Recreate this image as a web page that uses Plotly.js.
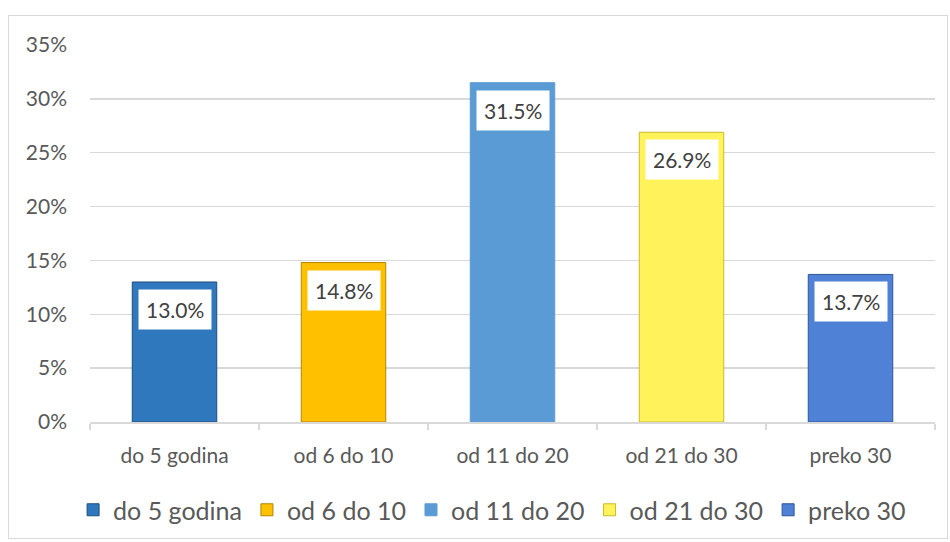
<!DOCTYPE html>
<html><head><meta charset="utf-8">
<script src="https://cdn.plot.ly/plotly-3.0.1.min.js"></script>
<style>
html,body{margin:0;padding:0;background:#fff;}
#frame{position:absolute;left:8px;top:15px;width:940px;height:524px;border:1px solid #d9d9d9;box-sizing:border-box;pointer-events:none;z-index:5;}
#chart{position:absolute;left:0;top:0;width:950px;height:542px;}
</style></head>
<body>
<div id="chart"></div><div id="frame"></div>
<script>
const categories = ["do 5 godina", "od 6 do 10", "od 11 do 20", "od 21 do 30", "preko 30"];
const values = [0.130, 0.148, 0.315, 0.269, 0.137];
const labels = ["13.0%", "14.8%", "31.5%", "26.9%", "13.7%"];
const colors = ["#3078bd", "#ffc000", "#5b9bd5", "#fff25a", "#4f81d6"];
const lineColors = ["#1f4e79", "#b08400", "#5b9bd5", "#c9bb2a", "#2f5597"];

const FONT = "Lato, 'Open Sans', sans-serif";
const traces = categories.map((c, i) => ({
  type: "bar",
  name: c,
  x: [c],
  y: [values[i]],
  marker: {color: colors[i], line: {color: lineColors[i], width: 1}},
  hoverinfo: "skip"
}));

const annotations = categories.map((c, i) => ({
  x: c, y: values[i], xref: "x", yref: "y",
  yanchor: "top", yshift: -7,
  text: labels[i], showarrow: false,
  bgcolor: "#ffffff", borderpad: 7,
  font: {family: FONT, size: 21, color: "#404040"}
}));

const layout = {
  width: 950, height: 542,
  margin: {l: 90, r: 15, t: 45, b: 120, autoexpand: false},
  paper_bgcolor: "#ffffff", plot_bgcolor: "#ffffff",
  barmode: "group", bargap: 0.5,
  font: {family: FONT, color: "#595959"},
  showlegend: true,
  legend: {orientation: "h", xref: "container", yref: "container",
           x: 0.518, xanchor: "center", y: 0.059, yanchor: "middle",
           font: {family: FONT, size: 25, color: "#595959"}, itemwidth: 30, traceorder: "normal"},
  xaxis: {type: "category", categoryorder: "array", categoryarray: categories, automargin: false,
          showline: true, linecolor: "#d9d9d9", linewidth: 1.5,
          ticks: "outside", tickson: "boundaries", ticklen: 6, tickcolor: "#d9d9d9", tickwidth: 1.5,
          ticklabelstandoff: 14,
          tickfont: {family: FONT, size: 21, color: "#595959"}, fixedrange: true},
  yaxis: {range: [0, 0.35], dtick: 0.05, tickformat: ".0%", automargin: false,
          showgrid: true, gridcolor: "#d9d9d9", gridwidth: 1.5, zeroline: false, showline: false,
          ticks: "", ticklabelstandoff: 22,
          tickfont: {family: FONT, size: 21, color: "#595959"}, fixedrange: true},
  annotations: annotations
};
Plotly.newPlot("chart", traces, layout, {displayModeBar: false, staticPlot: true});
</script>
</body></html>
